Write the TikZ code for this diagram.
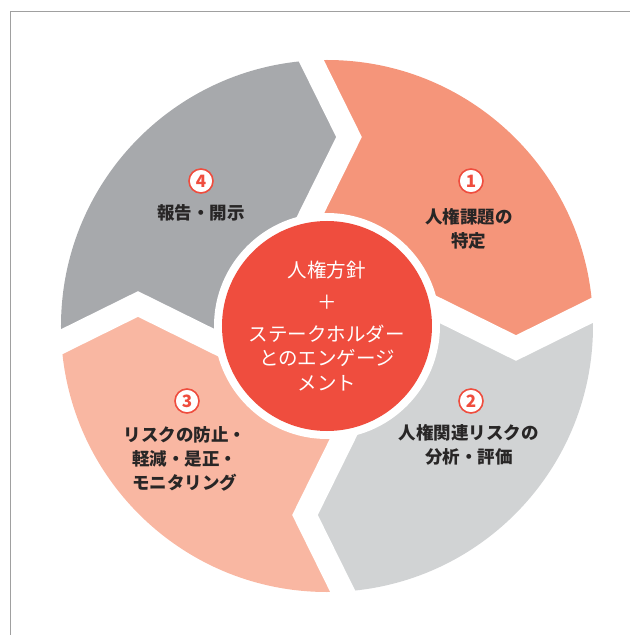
\documentclass[tikz,border=0pt]{standalone}
\usepackage{fontspec}
\newfontfamily\jp{Noto Sans CJK JP}
\definecolor{segA}{RGB}{245,149,122}
\definecolor{segB}{RGB}{209,211,212}
\definecolor{segC}{RGB}{249,183,162}
\definecolor{segD}{RGB}{167,169,172}
\definecolor{hub}{RGB}{239,77,62}
\definecolor{txt}{RGB}{40,38,38}
\definecolor{framecol}{RGB}{160,160,160}
\begin{document}
\begin{tikzpicture}[x=1pt,y=1pt,
 steplabel/.style={font=\jp\bfseries\fontsize{17.5}{24}\selectfont, text=txt, align=center, inner sep=0pt},
 num/.style={circle, draw=hub, line width=1.6pt, fill=white, text=hub, minimum size=24pt, inner sep=0pt, font=\jp\bfseries\fontsize{17}{17}\selectfont},
 hubtext/.style={font=\jp\fontsize{19.5}{24.5}\selectfont, text=white, align=center, inner sep=0pt},
 gapline/.style={white, line width=23pt, line join=miter}]
\useasboundingbox (-327,-309) rectangle (303,326);
\draw[framecol, line width=1pt] (-316,-309) -- (-316,314) -- (303,314);
\coordinate (C) at (0,0);
\begin{scope}
\clip (C) circle (266);
\foreach \a/\col in {0/segA,-90/segB,-180/segC,-270/segD}{
 \fill[\col, rotate=\a] (0,0) -- (-16,112) -- (22,189) -- (-16,266) -- (-35,304.5) -- (400,400) -- (304.5,35) -- (266,16) -- (189,-22) -- (112,16) -- cycle;
}
\end{scope}
\foreach \a in {0,-90,-180,-270}{
 \draw[gapline, rotate=\a] (-27.4,89) -- (22,189) -- (-27.4,289);
}
\fill[white] (C) circle (113);
\fill[hub] (C) circle (105);
% numbers
\node[num] (n1) at (144,145) {1};
\node[num] (n2) at (144,-75) {2};
\node[num] (n3) at (-140,-75) {3};
\node[num] (n4) at (-126,145) {4};
% labels
\node[steplabel] (t1) at (142,97.5) {人権課題の\\特定};
\node[steplabel] (t2) at (142,-119) {人権関連リスクの\\分析・評価};
\node[steplabel] (t3) at (-142,-132.7) {リスクの防止・\\軽減・是正・\\モニタリング};
\node[steplabel] (t4) at (-126,113) {報告・開示};
% hub text
\node[hubtext] (h1) at (0,56) {人権方針};
\node[hubtext] (h2) at (0,24) {＋};
\node[hubtext] (h3) at (0,-32) {ステークホルダー\\とのエンゲージ\\メント};
\end{tikzpicture}
\end{document}
